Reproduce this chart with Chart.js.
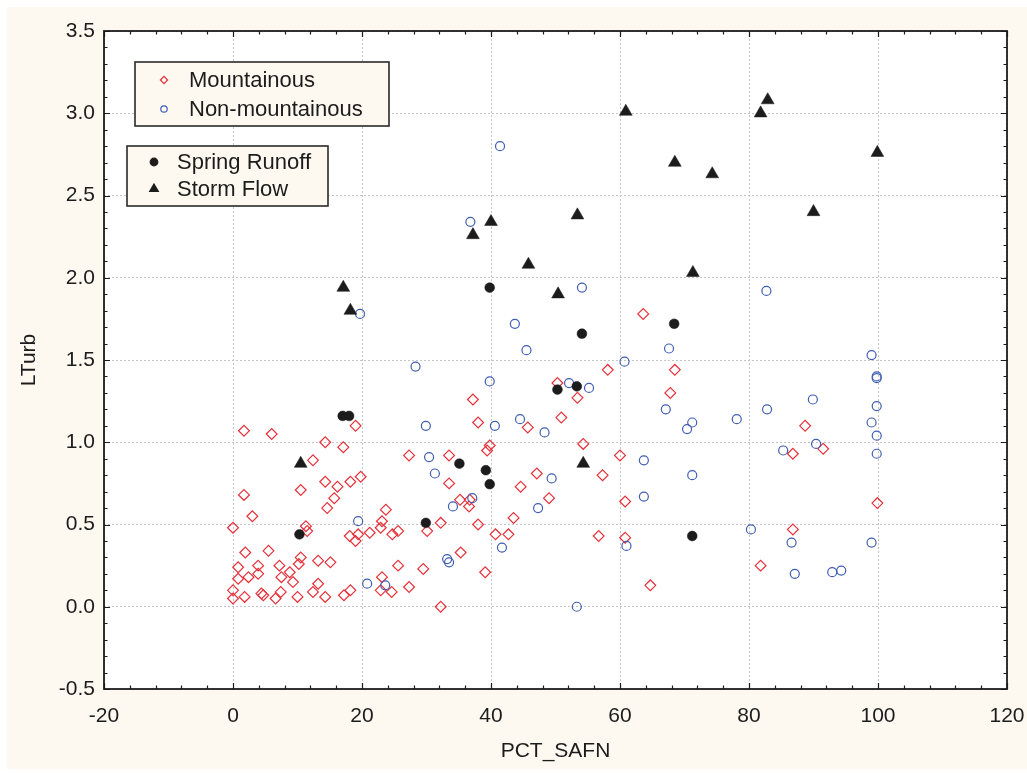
<!DOCTYPE html>
<html>
<head>
<meta charset="utf-8">
<title>LTurb vs PCT_SAFN</title>
<script src="https://cdn.jsdelivr.net/npm/chart.js@4.4.1/dist/chart.umd.min.js"></script>
<style>
    html, body { margin: 0; padding: 0; background: #fff; }
    #wrap { position: relative; width: 1027px; height: 773px; }
</style>
</head>
<body>
<div id="wrap"><canvas id="turb-chart" width="1027" height="773"></canvas></div>
<script>
// Mountainous sites
const mountPct = [
    1.7, 6.0, 19.0, 14.3, 17.1, 12.4, 14.3, 16.2, 18.2, 19.8,
    1.7, 10.5, 15.7, 14.6, 3.0, 0.0, 11.3, 11.5, 18.1, 19.4,
    19.0, 21.2, 22.9, 1.9, 5.5, 0.8, 3.9, 0.8, 2.4, 3.9,
    7.2, 7.5, 8.8, 9.3, 10.5, 10.2, 13.2, 15.1, 13.2, 0.0,
    0.0, 1.8, 4.4, 4.7, 6.6, 7.4, 10.0, 12.4, 14.3, 17.2,
    18.2, 37.2, 38.0, 45.7, 39.8, 39.4, 27.3, 33.5, 33.5, 47.1,
    44.6, 35.2, 36.7, 36.6, 23.7, 23.1, 24.7, 25.6, 30.1, 32.2,
    38.0, 43.5, 40.7, 42.7, 35.3, 25.6, 29.5, 39.1, 23.1, 22.9,
    24.6, 27.3, 32.2, 63.6, 58.1, 68.5, 50.3, 53.4, 67.8, 50.9,
    54.3, 60.0, 57.3, 49.0, 60.8, 56.7, 60.8, 64.7, 88.7, 91.5,
    86.8, 99.9, 86.8, 81.8
];
const mountTurb = [
    1.07, 1.05, 1.10, 1.00, 0.97, 0.89, 0.76, 0.73, 0.76, 0.79,
    0.68, 0.71, 0.66, 0.60, 0.55, 0.48, 0.49, 0.46, 0.43, 0.44,
    0.40, 0.45, 0.48, 0.33, 0.34, 0.24, 0.25, 0.17, 0.18, 0.20,
    0.25, 0.18, 0.21, 0.15, 0.30, 0.26, 0.28, 0.27, 0.14, 0.10,
    0.05, 0.06, 0.08, 0.07, 0.05, 0.09, 0.06, 0.09, 0.06, 0.07,
    0.10, 1.26, 1.12, 1.09, 0.98, 0.95, 0.92, 0.92, 0.75, 0.81,
    0.73, 0.65, 0.65, 0.61, 0.59, 0.52, 0.44, 0.46, 0.46, 0.51,
    0.50, 0.54, 0.44, 0.44, 0.33, 0.25, 0.23, 0.21, 0.18, 0.10,
    0.09, 0.12, 0.00, 1.78, 1.44, 1.44, 1.36, 1.27, 1.30, 1.15,
    0.99, 0.92, 0.80, 0.66, 0.64, 0.43, 0.42, 0.13, 1.10, 0.96,
    0.93, 0.63, 0.47, 0.25
];

// Non-mountainous sites
const flatPct = [
    19.4, 20.8, 23.6, 39.8, 29.9, 40.6, 44.5, 30.4, 31.3, 37.1,
    34.1, 47.3, 41.7, 33.2, 33.5, 45.5, 67.6, 60.7, 52.1, 55.2,
    67.1, 71.2, 70.4, 48.3, 63.7, 71.2, 49.4, 63.7, 61.0, 53.3,
    99.0, 99.8, 99.8, 89.9, 82.8, 78.1, 99.8, 99.0, 99.8, 90.4,
    85.3, 99.8, 80.3, 86.6, 99.0, 87.1, 92.9, 94.3, 41.4, 36.8,
    19.7, 43.7, 28.3, 54.1, 82.7
];
const flatTurb = [
    0.52, 0.14, 0.13, 1.37, 1.10, 1.10, 1.14, 0.91, 0.81, 0.66,
    0.61, 0.60, 0.36, 0.29, 0.27, 1.56, 1.57, 1.49, 1.36, 1.33,
    1.20, 1.12, 1.08, 1.06, 0.89, 0.80, 0.78, 0.67, 0.37, 0.00,
    1.53, 1.40, 1.39, 1.26, 1.20, 1.14, 1.22, 1.12, 1.04, 0.99,
    0.95, 0.93, 0.47, 0.39, 0.39, 0.20, 0.21, 0.22, 2.80, 2.34,
    1.78, 1.72, 1.46, 1.94, 1.92
];

// Spring runoff samples
const springPct = [10.3, 17.0, 18.0, 29.9, 35.1, 39.2, 39.8, 39.8, 50.3, 53.3, 54.1, 68.4, 71.2];
const springTurb = [0.44, 1.16, 1.16, 0.51, 0.87, 0.83, 0.745, 1.94, 1.32, 1.34, 1.66, 1.72, 0.43];

// Storm flow samples
const stormPct = [10.5, 17.1, 18.2, 37.2, 40.0, 45.8, 50.4, 53.4, 54.3, 60.9, 68.5, 71.3, 74.3, 81.8, 82.9, 90.0, 99.9];
const stormTurb = [0.87, 1.94, 1.80, 2.26, 2.34, 2.08, 1.90, 2.38, 0.87, 3.01, 2.70, 2.03, 2.63, 3.00, 3.08, 2.40, 2.76];

const xTicks = [-20, 0, 20, 40, 60, 80, 100, 120];
const yTicks = [-0.5, 0.0, 0.5, 1.0, 1.5, 2.0, 2.5, 3.0, 3.5];

const RED = '#e8303a';
const BLUE = '#3f5db3';
const INK = '#1c1c1c';
const CREAM = '#fdf9f0';
const FONT = "Arial, 'Liberation Sans', Helvetica, sans-serif";

const toPoints = (xs, ys) => xs.map((x, i) => ({ x: x, y: ys[i] }));

// cream panel behind the axes, white plotting area
const panelPlugin = {
    id: 'panel',
    beforeDraw(chart) {
        const { ctx, chartArea: a } = chart;
        ctx.save();
        ctx.fillStyle = '#ffffff';
        ctx.fillRect(0, 0, chart.width, chart.height);
        ctx.fillStyle = CREAM;
        ctx.fillRect(7, 7, chart.width - 7, chart.height - 11);
        ctx.fillStyle = '#ffffff';
        ctx.fillRect(a.left, a.top, a.right - a.left, a.bottom - a.top);
        ctx.restore();
    }
};

// box round the plot with inward major/minor ticks on all four sides
const framePlugin = {
    id: 'frame',
    afterDraw(chart) {
        const { ctx, chartArea: a, scales } = chart;
        ctx.save();
        ctx.strokeStyle = INK;
        ctx.lineWidth = 1.2;
        ctx.beginPath();
        for (let v = -20; v <= 120.001; v += 4) {
            const px = Math.round(scales.x.getPixelForValue(v)) + 0.5;
            const len = Math.abs(v % 20) < 0.001 ? 6 : 3.5;
            ctx.moveTo(px, a.bottom); ctx.lineTo(px, a.bottom - len);
            ctx.moveTo(px, a.top); ctx.lineTo(px, a.top + len);
        }
        for (let k = -5; k <= 35; k++) {
            const py = Math.round(scales.y.getPixelForValue(k / 10)) + 0.5;
            const len = k % 5 === 0 ? 6 : 3.5;
            ctx.moveTo(a.left, py); ctx.lineTo(a.left + len, py);
            ctx.moveTo(a.right, py); ctx.lineTo(a.right - len, py);
        }
        ctx.stroke();
        ctx.lineWidth = 1.8;
        ctx.strokeRect(a.left, a.top, a.right - a.left, a.bottom - a.top);
        ctx.restore();
    }
};

// the two legend boxes inside the plot
const legendBoxes = [
    { x: 135, y: 62, w: 254, h: 64, textX: 189, markX: 164, rows: [
        { label: 'Mountainous', style: 'rectRot', r: 3.6, fill: 'transparent', stroke: RED, y: 80 },
        { label: 'Non-mountainous', style: 'circle', r: 3.2, fill: 'transparent', stroke: BLUE, y: 109 }
    ] },
    { x: 127, y: 146, w: 201, h: 60, textX: 177, markX: 154, rows: [
        { label: 'Spring Runoff', style: 'circle', r: 3.8, fill: INK, stroke: INK, y: 162 },
        { label: 'Storm Flow', style: 'triangle', r: 5, fill: INK, stroke: INK, y: 189 }
    ] }
];

const legendPlugin = {
    id: 'boxLegend',
    afterDraw(chart) {
        const ctx = chart.ctx;
        ctx.save();
        legendBoxes.forEach(box => {
            ctx.fillStyle = CREAM;
            ctx.fillRect(box.x, box.y, box.w, box.h);
            ctx.strokeStyle = '#2a2a2a';
            ctx.lineWidth = 1.6;
            ctx.strokeRect(box.x, box.y, box.w, box.h);
            box.rows.forEach(row => {
                ctx.fillStyle = row.fill;
                ctx.strokeStyle = row.stroke;
                ctx.lineWidth = 1.2;
                Chart.helpers.drawPoint(ctx, { pointStyle: row.style, radius: row.r, rotation: 0, borderWidth: 1.2 }, box.markX, row.y);
                ctx.fillStyle = INK;
                ctx.font = '22px ' + FONT;
                ctx.textBaseline = 'middle';
                ctx.textAlign = 'left';
                ctx.fillText(row.label, box.textX, row.y + 1);
            });
        });
        ctx.restore();
    }
};

const canvas = document.getElementById('turb-chart');
new Chart(canvas, {
    type: 'scatter',
    data: {
        datasets: [
            {
                label: 'Storm Flow',
                data: toPoints(stormPct, stormTurb),
                pointStyle: 'triangle',
                pointRadius: 7.4,
                backgroundColor: INK,
                borderColor: INK,
                borderWidth: 0.5,
                order: 1
            },
            {
                label: 'Spring Runoff',
                data: toPoints(springPct, springTurb),
                pointStyle: 'circle',
                pointRadius: 4.9,
                backgroundColor: INK,
                borderColor: INK,
                borderWidth: 0.5,
                order: 2
            },
            {
                label: 'Non-mountainous',
                data: toPoints(flatPct, flatTurb),
                pointStyle: 'circle',
                pointRadius: 4.5,
                backgroundColor: 'rgba(255,255,255,0)',
                borderColor: BLUE,
                borderWidth: 1.2,
                order: 3
            },
            {
                label: 'Mountainous',
                data: toPoints(mountPct, mountTurb),
                pointStyle: 'rectRot',
                pointRadius: 5.4,
                backgroundColor: 'rgba(255,255,255,0)',
                borderColor: RED,
                borderWidth: 1.2,
                order: 4
            }
        ]
    },
    options: {
        responsive: false,
        animation: false,
        devicePixelRatio: 1,
        layout: { padding: { left: 0, top: 31, right: 20, bottom: 0 } },
        plugins: {
            legend: { display: false },
            tooltip: { enabled: false }
        },
        scales: {
            x: {
                type: 'linear',
                min: -20,
                max: 120,
                afterBuildTicks: s => { s.ticks = xTicks.map(v => ({ value: v })); },
                // fixed band height; end labels may hang past the plot edges
                afterFit: s => { s.height = 84; s.paddingLeft = 0; s.paddingRight = 0; },
                ticks: {
                    color: INK,
                    padding: 15,
                    maxRotation: 0,
                    font: { family: FONT, size: 21 },
                    callback: v => String(v)
                },
                grid: { color: '#c4c4c4', lineWidth: 1, drawTicks: false },
                border: { display: false, dash: [2, 2] },
                title: {
                    display: true,
                    text: 'PCT_SAFN',
                    color: INK,
                    font: { family: FONT, size: 21 },
                    padding: { top: 0, bottom: 9 }
                }
            },
            y: {
                type: 'linear',
                min: -0.5,
                max: 3.5,
                afterBuildTicks: s => { s.ticks = yTicks.map(v => ({ value: v })); },
                afterFit: s => { s.width = 104; },
                ticks: {
                    color: INK,
                    padding: 9,
                    font: { family: FONT, size: 21 },
                    callback: v => Number(v).toFixed(1)
                },
                grid: { color: '#c4c4c4', lineWidth: 1, drawTicks: false },
                border: { display: false, dash: [2, 2] },
                title: {
                    display: true,
                    text: 'LTurb',
                    color: INK,
                    font: { family: FONT, size: 21 },
                    padding: { top: 17, bottom: 0 }
                }
            }
        }
    },
    plugins: [panelPlugin, framePlugin, legendPlugin]
});
</script>
</body>
</html>
